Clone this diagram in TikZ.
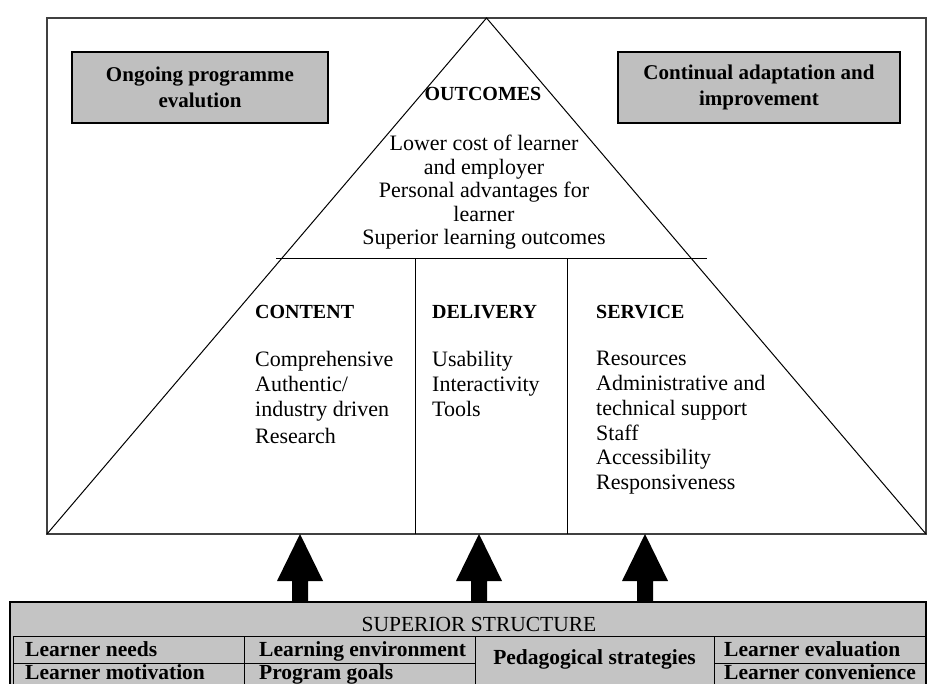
\documentclass[tikz,border=0pt]{standalone}
\usepackage{fontspec}
\setmainfont{Liberation Serif}
\begin{document}
\begin{tikzpicture}[
        x=1pt, y=-1pt,
        frame/.style={draw=black!75, line width=1.5pt},
        triline/.style={draw=black, line width=1pt},
        graybox/.style={draw=black, fill=black!25, line width=1.5pt, minimum width=256pt, minimum height=71pt,
            align=center, font=\fontsize{21}{26}\selectfont\bfseries},
        head/.style={font=\fontsize{20}{24}\selectfont\bfseries, anchor=base west, inner sep=0pt},
        items/.style={font=\fontsize{22}{24.8}\selectfont, align=left, anchor=north west, inner sep=0pt},
        cell/.style={font=\fontsize{21.5}{24}\selectfont\bfseries, anchor=base west, inner sep=0pt},
        tableline/.style={draw=black, line width=1pt},
    ]
    \useasboundingbox (0,0) rectangle (936,684);
    \clip (0,0) rectangle (936,684);
    \coordinate (fnw) at (47,18);
    \coordinate (fse) at (926,534);
    \coordinate (apex) at (486.5,18);
    \coordinate (bl) at (47,534);
    \coordinate (br) at (926,534);
    \coordinate (hl) at (276,259);
    \coordinate (hr) at (707,259);
    \coordinate (v1t) at (415,259);
    \coordinate (v1b) at (415,534);
    \coordinate (v2t) at (567,259);
    \coordinate (v2b) at (567,534);
    \draw[frame] (fnw) rectangle (fse);
    \draw[triline] (bl) -- (apex) -- (br);
    \draw[triline] (hl) -- (hr);
    \draw[triline] (v1t) -- (v1b);
    \draw[triline] (v2t) -- (v2b);

    \node[graybox](evalbox) at (200,87.5){Ongoing programme\\evalution};
    \node[graybox, minimum width=282pt](adaptbox) at (759,87.5){Continual adaptation and\\improvement};

    \node[font=\fontsize{20}{24}\selectfont\bfseries, anchor=base, inner sep=0pt](outcomes) at (483,101){OUTCOMES};
    \node[font=\fontsize{22}{23.5}\selectfont, align=center, anchor=north, inner sep=0pt](outlist) at (484,135)
        {Lower cost of learner\\and employer\\Personal advantages for\\learner\\Superior learning outcomes};

    \node[head](content) at (255,319){CONTENT};
    \node[head](delivery) at (432,319){DELIVERY};
    \node[head](service) at (596,319){SERVICE};
    \node[items](contentlist) at (255,351){Comprehensive\\Authentic/\\industry driven\\[3pt]Research};
    \node[items](deliverylist) at (432,351){Usability\\Interactivity\\Tools};
    \node[items](servicelist) at (596,351){Resources\\Administrative and\\technical support\\Staff\\Accessibility\\Responsiveness};

    \foreach \x in {300,479,645}{
        \fill (\x-8,604) -- (\x-8,581) -- (\x-23,581) -- (\x,534) -- (\x+23,581) -- (\x+8,581) -- (\x+8,604) -- cycle;
    }

    \fill[black!23] (10,602) rectangle (926,700);
    \draw[black, line width=1.5pt] (10,700) -- (10,602) -- (926,602) -- (926,700);
    \draw[tableline] (13,700) -- (13,636) -- (926,636);
    \draw[tableline] (13,663) -- (475,663);
    \draw[tableline] (714,663) -- (926,663);
    \draw[tableline] (244,636) -- (244,700);
    \draw[tableline] (475,636) -- (475,700);
    \draw[tableline] (714,636) -- (714,700);

    \node[font=\fontsize{21.5}{24}\selectfont, anchor=base, inner sep=0pt](superior) at (479,631){SUPERIOR STRUCTURE};
    \node[cell](needs) at (25,656){Learner needs};
    \node[cell](motivation) at (25,679){Learner motivation};
    \node[cell](environment) at (259,656){Learning environment};
    \node[cell](goals) at (259,679){Program goals};
    \node[cell, anchor=base](strategies) at (594.5,664){Pedagogical strategies};
    \node[cell](evaluation) at (724,656){Learner evaluation};
    \node[cell](convenience) at (724,679){Learner convenience};
\end{tikzpicture}
\end{document}
